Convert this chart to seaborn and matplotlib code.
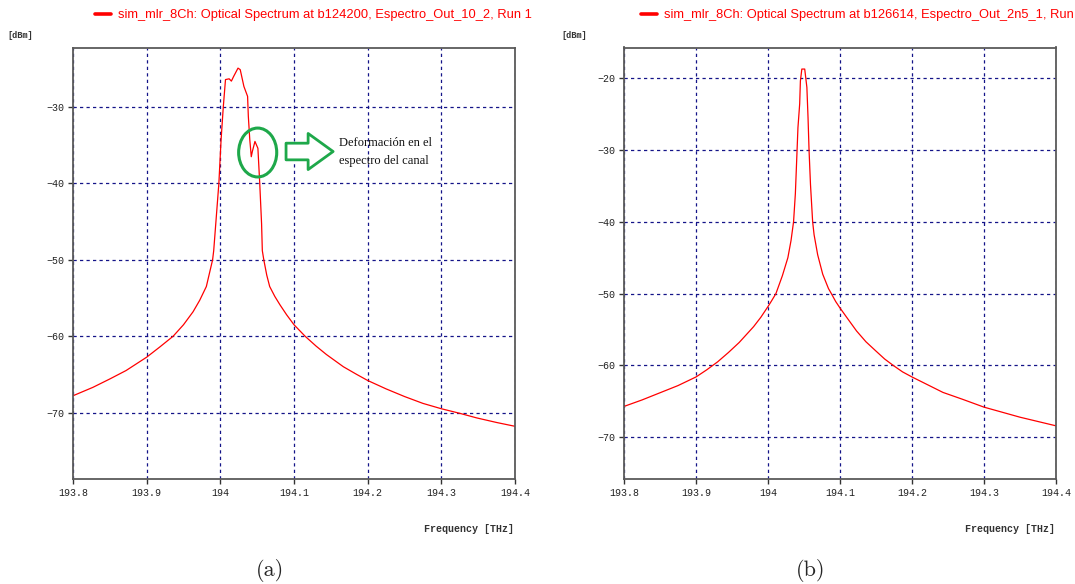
import matplotlib
matplotlib.use("Agg")
import matplotlib.pyplot as plt
import seaborn as sns
from matplotlib.patches import Ellipse, FancyArrowPatch

# ---- spectrum (a): channel with deformation -------------------------------
freq_a = [193.800, 193.827, 193.850, 193.872, 193.900, 193.918, 193.936,
          193.950, 193.963, 193.972, 193.981, 193.9895, 193.991, 193.998,
          194.001, 194.004, 194.007, 194.012, 194.015, 194.018, 194.024,
          194.027, 194.032, 194.037, 194.038, 194.040, 194.042, 194.0435,
          194.047, 194.051, 194.0535, 194.056, 194.057, 194.059, 194.063,
          194.067, 194.074, 194.081, 194.090, 194.100, 194.115, 194.130,
          194.144, 194.167, 194.185, 194.200, 194.225, 194.250, 194.275,
          194.300, 194.325, 194.348, 194.375, 194.400]
power_a = [-67.8, -66.7, -65.6, -64.5, -62.75, -61.4, -60.0,
           -58.5, -56.8, -55.3, -53.5, -50.0, -48.8, -40.0,
           -34.3, -30.0, -26.4, -26.3, -26.6, -26.0, -24.9,
           -25.1, -27.3, -28.6, -31.2, -34.3, -36.5, -35.8,
           -34.5, -35.4, -40.0, -45.3, -48.8, -50.0, -52.0,
           -53.5, -54.8, -55.9, -57.2, -58.5, -60.0, -61.3,
           -62.4, -64.0, -65.0, -65.8, -66.9, -67.9, -68.8,
           -69.5, -70.1, -70.7, -71.3, -71.8]

# ---- spectrum (b): undistorted channel -------------------------------------
freq_b = [193.800, 193.825, 193.850, 193.875, 193.900, 193.915, 193.930,
          193.945, 193.960, 193.980, 193.990, 194.000, 194.005, 194.011,
          194.020, 194.0276, 194.032, 194.0355, 194.038, 194.040, 194.0416,
          194.044, 194.045, 194.047, 194.051, 194.054, 194.0556, 194.057,
          194.059, 194.062, 194.064, 194.069, 194.076, 194.084, 194.088,
          194.094, 194.100, 194.110, 194.123, 194.136, 194.150, 194.162,
          194.174, 194.187, 194.200, 194.220, 194.243, 194.270, 194.300,
          194.325, 194.350, 194.375, 194.400]
power_b = [-65.7, -64.8, -63.8, -62.8, -61.6, -60.6, -59.5,
           -58.2, -56.8, -54.6, -53.3, -51.8, -51.0, -50.0,
           -47.5, -45.0, -42.6, -40.0, -36.1, -31.0, -26.9,
           -23.6, -20.4, -18.75, -18.75, -21.3, -25.5, -30.0,
           -34.8, -40.0, -41.8, -44.6, -47.3, -49.3, -50.0,
           -51.1, -52.0, -53.4, -55.2, -56.7, -58.0, -59.1,
           -60.0, -60.9, -61.6, -62.6, -63.75, -64.7, -65.8,
           -66.5, -67.2, -67.8, -68.4]

x_ticks = [193.8, 193.9, 194.0, 194.1, 194.2, 194.3, 194.4]
x_tick_labels = ["193.8", "193.9", "194", "194.1", "194.2", "194.3", "194.4"]
y_ticks_a = [-30, -40, -50, -60, -70]
y_ticks_b = [-20, -30, -40, -50, -60, -70]

title_a = "sim_mlr_8Ch: Optical Spectrum at b124200, Espectro_Out_10_2, Run 1"
title_b = "sim_mlr_8Ch: Optical Spectrum at b126614, Espectro_Out_2n5_1, Run"
note_text = "Deformación en el\nespectro del canal"

sns.set_style("white")
plt.rcParams["font.family"] = ["Liberation Sans", "DejaVu Sans"]

W, H = 1075, 584
fig = plt.figure(figsize=(W / 100, H / 100), dpi=100)


def px_axes(left, top, right, bottom):
    return fig.add_axes([left / W, 1 - bottom / H, (right - left) / W, (bottom - top) / H])


ax_a = px_axes(73, 47.5, 515, 479)
ax_b = px_axes(624, 47.5, 1056, 479)

GRID = "#141488"
SPINE = "#5a5a5a"
MONO = ["Liberation Mono", "DejaVu Sans Mono"]


def style_axes(ax, ylim, yticks, freq, power, title, legend_x):
    sns.lineplot(x=freq, y=power, ax=ax, color="#ff0000", lw=0.9,
                 sort=False, estimator=None, label=title)
    ax.set_xlim(193.8, 194.4)
    ax.set_ylim(*ylim)
    ax.set_xticks(x_ticks)
    ax.set_xticklabels(x_tick_labels)
    ax.set_yticks(yticks)
    ax.set_yticklabels([f"\u2212{abs(v)}" for v in yticks])
    ax.set_xlabel("")
    ax.set_ylabel("")
    ax.set_axisbelow(True)
    ax.grid(True, color=GRID, linestyle=(0, (2.6, 2.6)), lw=0.9)
    for s in ax.spines.values():
        s.set_color(SPINE)
        s.set_linewidth(1.3)
    ax.tick_params(direction="out", length=3.5, width=1, color="#333333",
                   pad=2.8, labelsize=7.2, left=True, bottom=True)
    for lab in ax.get_xticklabels() + ax.get_yticklabels():
        lab.set_family(MONO)
        lab.set_color("#222222")
    leg = ax.legend(loc="center left", bbox_to_anchor=(legend_x / W, 1 - 15 / H),
                    bbox_transform=fig.transFigure, frameon=False, borderpad=0,
                    borderaxespad=0, handlelength=1.2, handletextpad=0.55,
                    fontsize=9.3, labelcolor="#ff0000")
    for h in leg.legend_handles:
        h.set_linewidth(2.6)


style_axes(ax_a, (-78.7, -22.2), y_ticks_a, freq_a, power_a, title_a, 95)
style_axes(ax_b, (-75.8, -15.75), y_ticks_b, freq_b, power_b, title_b, 641)

# unit labels
for x0 in (7, 561):
    fig.text(x0 / W, 1 - 35 / H, "[dBm]", family=MONO, size=6.2,
             weight="bold", color="#333333", va="center", ha="left")
for x1 in (514, 1055):
    fig.text(x1 / W, 1 - 529 / H, "Frequency [THz]", family=MONO, size=7.2,
             weight="bold", color="#333333", va="center", ha="right")

# sub-figure captions
fig.text(270 / W, 1 - 570 / H, "(a)", family="cmr10", size=16, ha="center", va="center")
fig.text(811 / W, 1 - 570 / H, "(b)", family="cmr10", size=16, ha="center", va="center")

# highlight of the distorted region in (a)
GREEN = "#1ea84a"
ax_a.add_patch(Ellipse((194.0507, -35.95), 0.0517, 6.4, fill=False,
                       edgecolor=GREEN, lw=2.2, zorder=5))
ax_a.add_patch(FancyArrowPatch((194.0892, -35.82), (194.1531, -35.82),
                               arrowstyle="simple,head_length=18,head_width=26,tail_width=12",
                               facecolor="white", edgecolor=GREEN, lw=2.0,
                               shrinkA=0, shrinkB=0, mutation_scale=1, zorder=5))
ax_a.text(194.1617, -35.9, note_text, family=["Liberation Serif", "DejaVu Serif"],
          size=9.0, ha="left", va="center", linespacing=1.6, color="#111111", zorder=6)

fig.savefig("out.png", dpi=100)
